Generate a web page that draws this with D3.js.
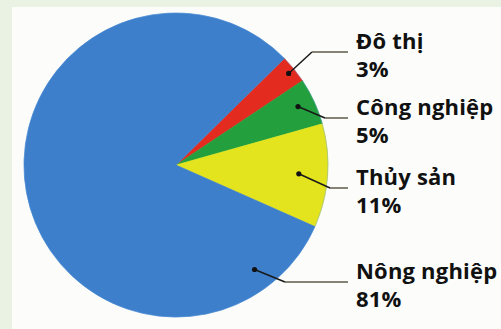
<!DOCTYPE html>
<html><head><meta charset="utf-8">
<script src="https://cdn.jsdelivr.net/npm/d3@7"></script>
<style>
html,body{margin:0;padding:0;background:#e9f2e3;}
svg{display:block;}
</style></head>
<body>
<svg id="chart" width="501" height="329"></svg>
<script>
const categories = ["Đô thị", "Công nghiệp", "Thủy sản", "Nông nghiệp"];
const values = [3, 5, 11, 81];
const valueLabels = ["3%", "5%", "11%", "81%"];
const colors = ["#e42b20", "#23a03d", "#e3e41e", "#3e7fcc"];

// layout (not data)
const W = 501, H = 329;
const cx = 176, cy = 165, R = 152;
const startDeg = 45.5;
const dotFrac = [0.5, 0.45, 0.5, 0.1];   // position of dot inside slice (fraction of angle)
const dotRad = [0.955, 0.89, 0.81, 0.86]; // fraction of radius
const elbowX = [312, 325, 330, 285];
const lineY = [52, 118, 188, 282];
const lineEndX = 348, textX = 356;

const svg = d3.select("#chart");
svg.append("rect").attr("x", 12).attr("y", 7).attr("width", W - 12).attr("height", H - 7).attr("fill", "#fcfdfa");

const pie = d3.pie().sort(null).value(d => d)
  .startAngle(startDeg * Math.PI / 180)
  .endAngle(startDeg * Math.PI / 180 + 2 * Math.PI);
const arcs = pie(values);
const arc = d3.arc().innerRadius(0).outerRadius(R);

const g = svg.append("g").attr("transform", `translate(${cx},${cy})`);
g.selectAll("path").data(arcs).join("path")
  .attr("d", arc)
  .attr("fill", (d, i) => colors[i])
  .attr("stroke", (d, i) => colors[i])
  .attr("stroke-width", 0.6);
g.append("circle").attr("r", R).attr("fill", "none").attr("stroke", "#4a90d8").attr("stroke-width", 1).attr("opacity", 0.35);

const lab = svg.append("g");
arcs.forEach((d, i) => {
  const a = d.startAngle + (d.endAngle - d.startAngle) * dotFrac[i];
  const r = R * dotRad[i];
  const px = cx + r * Math.sin(a), py = cy - r * Math.cos(a);
  lab.append("path")
    .attr("d", `M${px},${py}L${elbowX[i]},${lineY[i]}`)
    .attr("stroke", "#1a1a1a").attr("stroke-width", 1.5).attr("fill", "none");
  lab.append("path")
    .attr("d", `M${elbowX[i]},${lineY[i]}H${lineEndX}`)
    .attr("stroke", "#5e5a48").attr("stroke-width", 1.5).attr("fill", "none");
  lab.append("circle").attr("cx", px).attr("cy", py).attr("r", 2.6).attr("fill", "#111");
  const t = lab.append("text")
    .attr("x", textX).attr("y", lineY[i] - 3)
    .attr("font-family", "'Open Sans', sans-serif").attr("font-weight", 700)
    .attr("font-size", 22).attr("fill", "#111").attr("letter-spacing", 0.2);
  t.append("tspan").attr("x", textX).text(categories[i]);
  t.append("tspan").attr("x", textX).attr("dy", 28).text(valueLabels[i]);
});
</script>
</body></html>
